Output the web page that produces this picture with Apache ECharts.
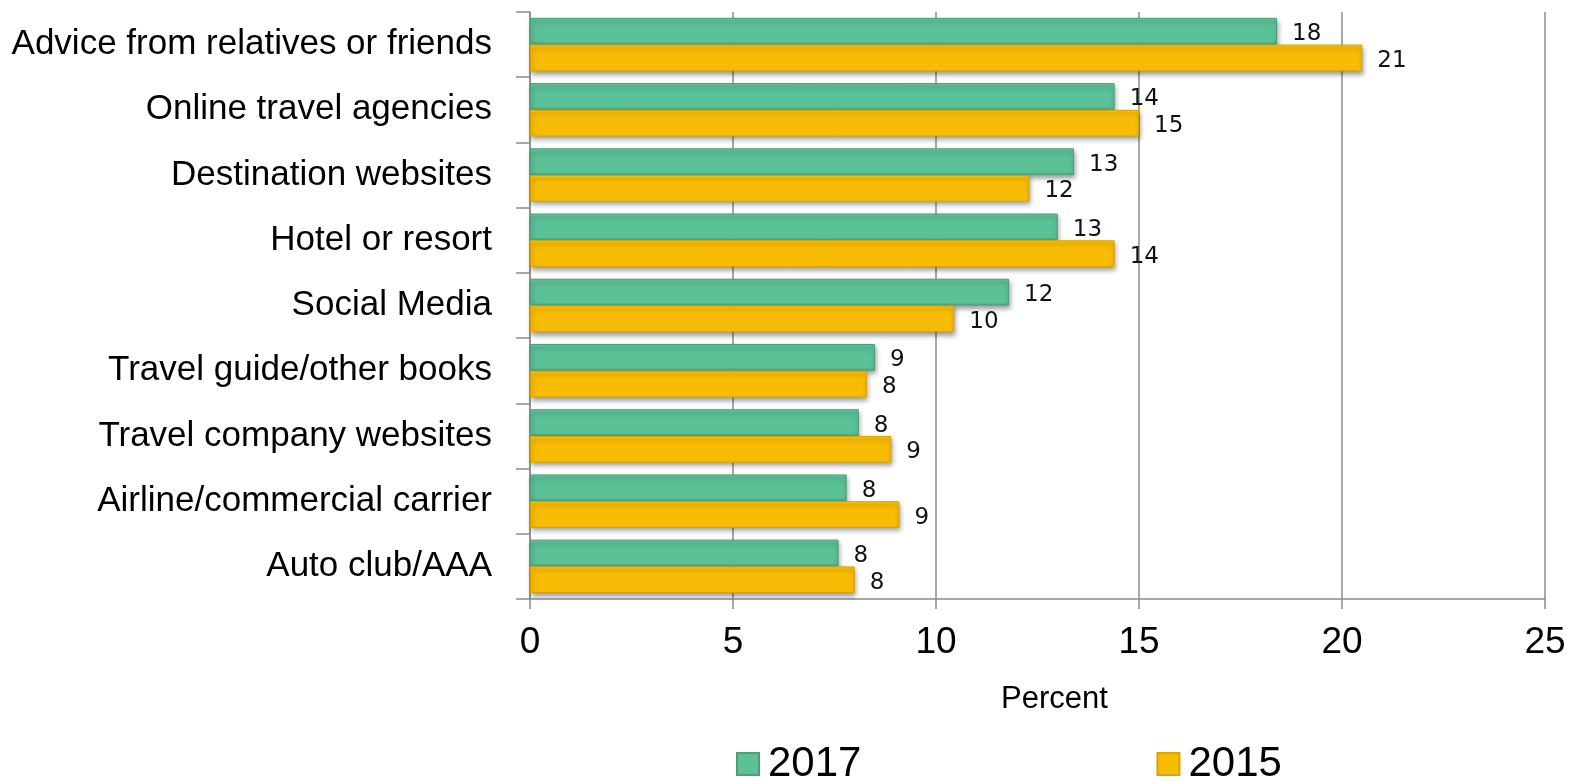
<!DOCTYPE html>
<html>
<head>
<meta charset="utf-8">
<title>Sources of travel advice</title>
<script src="https://cdn.jsdelivr.net/npm/echarts@6/dist/echarts.min.js"></script>
<style>
  html, body { margin: 0; padding: 0; background: #ffffff; }
  #chart { width: 1578px; height: 781px; }
</style>
</head>
<body>
<div id="chart"></div>
<script>
// Information sources used when planning a trip (percent of respondents)
const categories = [
  'Advice from relatives or friends',
  'Online travel agencies',
  'Destination websites',
  'Hotel or resort',
  'Social Media',
  'Travel guide/other books',
  'Travel company websites',
  'Airline/commercial carrier',
  'Auto club/AAA'
];
const values2017 = [18.4, 14.4, 13.4, 13.0, 11.8, 8.5, 8.1, 7.8, 7.6];
const values2015 = [20.5, 15.0, 12.3, 14.4, 10.45, 8.3, 8.9, 9.1, 8.0];
const seriesNames = ['2017', '2015'];
const xTicks = { min: 0, max: 25, step: 5 };

const AXIS_GRAY = '#8c8c8c';
const SANS = "'Liberation Sans', Arial, sans-serif";

// Bevelled bar fill: light top edge, flat body, darker bottom edge
function bevel(light, main, dark) {
  return new echarts.graphic.LinearGradient(0, 0, 0, 1, [
    { offset: 0, color: light },
    { offset: 0.1, color: main },
    { offset: 0.88, color: main },
    { offset: 1, color: dark }
  ]);
}

const barStyles = [
  {
    color: bevel('#74d3aa', '#5bc197', '#4fae86'),
    borderColor: '#4a9e7b',
    borderWidth: 1,
    shadowColor: 'rgba(0,0,0,0.4)',
    shadowBlur: 5,
    shadowOffsetX: 1,
    shadowOffsetY: 3
  },
  {
    color: bevel('#ffd800', '#f9bc06', '#fcc800'),
    borderColor: '#d9a300',
    borderWidth: 1,
    shadowColor: 'rgba(0,0,0,0.4)',
    shadowBlur: 5,
    shadowOffsetX: 1,
    shadowOffsetY: 3
  }
];

function barSeries(name, data, style) {
  return {
    name: name,
    type: 'bar',
    data: data,
    barGap: '0%',
    barCategoryGap: '18%',
    itemStyle: style,
    label: {
      show: true,
      position: 'right',
      distance: 15,
      offset: [0, 3],
      formatter: p => String(Math.round(p.value)),
      fontFamily: "'DejaVu Sans', sans-serif",
      fontSize: 23,
      color: '#111111'
    }
  };
}

const chart = echarts.init(document.getElementById('chart'), null, { renderer: 'canvas' });

chart.setOption({
  backgroundColor: '#ffffff',
  animation: false,
  textStyle: { fontFamily: SANS },
  grid: {
    left: 530,
    right: 33,
    top: 12,
    bottom: 182,
    containLabel: false,
    outerBoundsMode: 'none'
  },
  legend: {
    data: seriesNames,
    left: 736,
    top: 743,
    padding: 0,
    icon: 'rect',
    itemWidth: 22,
    itemHeight: 22,
    itemGap: 295,
    textStyle: { fontFamily: SANS, fontSize: 42, color: '#000000', padding: [0, 0, 0, 4] }
  },
  xAxis: {
    type: 'value',
    min: xTicks.min,
    max: xTicks.max,
    interval: xTicks.step,
    name: 'Percent',
    nameLocation: 'middle',
    nameGap: 85,
    nameTextStyle: { fontFamily: SANS, fontSize: 31, color: '#000000', padding: [0, 0, 0, 34] },
    axisLine: { show: true, lineStyle: { color: AXIS_GRAY, width: 1.5 } },
    axisTick: { show: true, length: 10, lineStyle: { color: AXIS_GRAY, width: 1.5 } },
    splitLine: { show: true, lineStyle: { color: AXIS_GRAY, width: 1.5 } },
    axisLabel: { fontFamily: SANS, fontSize: 37, color: '#000000', margin: 25 }
  },
  yAxis: {
    type: 'category',
    inverse: true,
    data: categories,
    axisLine: { show: true, lineStyle: { color: AXIS_GRAY, width: 1.5 } },
    axisTick: { show: true, length: 14, lineStyle: { color: AXIS_GRAY, width: 1.5 } },
    splitLine: { show: false },
    axisLabel: { fontFamily: SANS, fontSize: 35, color: '#000000', margin: 38 }
  },
  series: [
    barSeries(seriesNames[0], values2017, barStyles[0]),
    barSeries(seriesNames[1], values2015, barStyles[1])
  ]
});
</script>
</body>
</html>
